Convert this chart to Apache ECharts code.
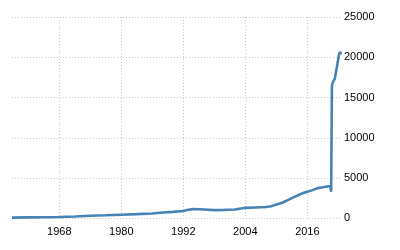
<!DOCTYPE html>
<html>
<head>
<meta charset="utf-8">
<script src="https://cdn.jsdelivr.net/npm/echarts@6/dist/echarts.min.js"></script>
<style>
html,body{margin:0;padding:0;background:#fff;}
#chart{width:400px;height:250px;}
</style>
</head>
<body>
<div id="chart"></div>
<script>
// Time positions (decimal years) and values
var years = [1958.85, 1962, 1965, 1968, 1971, 1974, 1977, 1980, 1983, 1986, 1988, 1990, 1992, 1993, 1994, 1996, 1998, 2000, 2002, 2004, 2006, 2008, 2009, 2010, 2011, 2012, 2013, 2014, 2015, 2016, 2017, 2018, 2019, 2020.4, 2020.6, 2020.75, 2021.0, 2021.3, 2022.2, 2022.65];
var values = [90, 110, 130, 160, 220, 320, 380, 450, 520, 600, 720, 800, 900, 1050, 1150, 1100, 1020, 1050, 1100, 1300, 1350, 1400, 1500, 1700, 1900, 2200, 2500, 2800, 3100, 3300, 3500, 3750, 3850, 4000, 3300, 16500, 17000, 17300, 20600, 20500];
var xTickLabels = [1968, 1980, 1992, 2004, 2016];
var yTicks = [0, 5000, 10000, 15000, 20000, 25000];

var data = years.map(function (y, i) { return [y, values[i]]; });

var chart = echarts.init(document.getElementById('chart'), null, {renderer: 'canvas'});
var labelFont = {fontFamily: 'Liberation Sans', fontSize: 11, color: '#000'};
chart.setOption({
  animation: false,
  grid: {left: 12, right: 58, top: 17, bottom: 31.7, containLabel: false},
  xAxis: {
    type: 'value',
    min: 1958.85,
    max: 2022.7,
    axisLine: {show: false},
    axisTick: {show: false, customValues: xTickLabels},
    axisLabel: Object.assign({customValues: xTickLabels, margin: 8, formatter: function (v) { return String(v); }}, labelFont),
    splitLine: {show: true, lineStyle: {type: [1, 2], color: '#c8c8c8', width: 1}}
  },
  yAxis: {
    type: 'value',
    position: 'right',
    min: yTicks[0],
    max: yTicks[yTicks.length - 1],
    interval: 5000,
    axisLine: {show: false},
    axisTick: {show: false},
    axisLabel: Object.assign({margin: 2, align: 'left', formatter: function (v) { return String(v); }}, labelFont),
    splitLine: {show: true, lineStyle: {type: [1, 2], color: '#c8c8c8', width: 1}}
  },
  series: [{
    type: 'line',
    data: data,
    showSymbol: false,
    symbol: 'none',
    lineStyle: {color: '#4682b4', width: 2.6},
    itemStyle: {color: '#4682b4'}
  }]
});
</script>
</body>
</html>
